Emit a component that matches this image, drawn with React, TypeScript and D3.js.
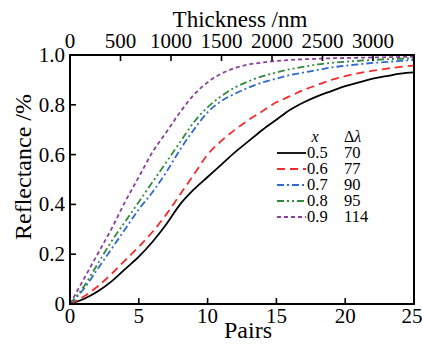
import React from 'react';
import * as d3 from 'd3';

const pairs = [0,1,2,3,4,5,6,7,8,9,10,11,12,13,14,15,16,17,18,19,20,21,22,23,24,25];
const r05 = [0,0.02,0.05,0.09,0.14,0.19,0.25,0.32,0.40,0.46,0.51,0.56,0.61,0.655,0.70,0.74,0.78,0.81,0.835,0.855,0.875,0.89,0.905,0.915,0.925,0.93];
const r06 = [0,0.03,0.07,0.12,0.175,0.23,0.29,0.36,0.44,0.52,0.60,0.655,0.70,0.74,0.775,0.81,0.835,0.86,0.88,0.90,0.915,0.927,0.937,0.945,0.952,0.958];
const r07 = [0,0.06,0.14,0.22,0.30,0.38,0.45,0.53,0.62,0.70,0.77,0.815,0.845,0.87,0.89,0.905,0.92,0.93,0.94,0.95,0.957,0.963,0.968,0.972,0.976,0.98];
const r08 = [0,0.07,0.16,0.25,0.33,0.41,0.49,0.57,0.65,0.73,0.79,0.835,0.87,0.895,0.915,0.93,0.943,0.953,0.962,0.968,0.973,0.977,0.98,0.983,0.985,0.987];
const r09 = [0,0.10,0.20,0.30,0.41,0.51,0.61,0.69,0.77,0.84,0.89,0.925,0.948,0.962,0.97,0.976,0.98,0.983,0.985,0.987,0.988,0.989,0.99,0.991,0.992,0.993];

const xValues = ['0.5','0.6','0.7','0.8','0.9'];
const dLambda = ['70','77','90','95','114'];
const colors = ['#000000','#f52a2a','#2f6bcc','#2f8a3c','#8b3d9e'];
const dashes = ['none','8,5','7,3,2,3','7,3,2,3,2,3','4,3'];
const series = [r05, r06, r07, r08, r09];

const pairTicks = [0,5,10,15,20,25];
const reflTicks = [0,0.2,0.4,0.6,0.8,1.0];
const thickTicks = [0,500,1000,1500,2000,2500,3000];
const maxThickness = 3406;

export default function App() {
  const W = 422, H = 348;
  const m = { left: 70, right: 414, top: 55, bottom: 304 };
  const x = d3.scaleLinear().domain([0, 25]).range([m.left, m.right]);
  const xt = d3.scaleLinear().domain([0, maxThickness]).range([m.left, m.right]);
  const y = d3.scaleLinear().domain([0, 1]).range([m.bottom, m.top]);
  const line = d3.line<number>()
    .x((_, i) => x(pairs[i]))
    .y(d => y(d))
    .curve(d3.curveMonotoneX);

  const legX = 277, legY = 153, legStep = 16;

  return (
    <svg className="chart" width={W} height={H} style={{ position: 'absolute', left: 0, top: 0, background: '#fff' }}>
      <style>{`.chart text { font-family: 'Liberation Serif'; }`}</style>
      <rect width={W} height={H} fill="#fff" />
      {series.map((s, k) => (
        <path key={k} d={line(s) || ''} fill="none" stroke={colors[k]} strokeWidth={1.8}
          strokeDasharray={dashes[k]} />
      ))}
      <rect x={m.left} y={m.top} width={m.right - m.left} height={m.bottom - m.top}
        fill="none" stroke="#000" strokeWidth={2} />

      {pairTicks.map(t => (
        <g key={'b' + t}>
          <line x1={x(t)} x2={x(t)} y1={m.bottom} y2={m.bottom - 6} stroke="#000" strokeWidth={1.6} />
          <text x={t === 25 ? x(t) - 2 : x(t)} y={323} fontSize={21} textAnchor="middle">{t}</text>
        </g>
      ))}
      {reflTicks.map(t => (
        <g key={'l' + t}>
          <line x1={m.left} x2={m.left + 6} y1={y(t)} y2={y(t)} stroke="#000" strokeWidth={1.6} />
          <text x={65} y={y(t) + 7} fontSize={21} textAnchor="end">{t === 0 ? '0' : t.toFixed(1)}</text>
        </g>
      ))}
      {thickTicks.map(t => (
        <g key={'t' + t}>
          <line x1={xt(t)} x2={xt(t)} y1={m.top} y2={m.top + 6} stroke="#000" strokeWidth={1.6} />
          <text x={xt(t)} y={48} fontSize={21} textAnchor="middle">{t}</text>
        </g>
      ))}

      <text x={240} y={27} fontSize={23} textAnchor="middle">Thickness /nm</text>
      <text x={248} y={338} fontSize={24} textAnchor="middle">Pairs</text>
      <text transform="translate(31,167) rotate(-90)" fontSize={24} textAnchor="middle">Reflectance /%</text>

      <text x={315} y={142} fontSize={16} fontStyle="italic" textAnchor="middle">x</text>
      <text x={344} y={142} fontSize={16}>Δ<tspan fontStyle="italic">λ</tspan></text>
      {xValues.map((v, k) => (
        <g key={'g' + k}>
          <line x1={legX} x2={legX + 29} y1={legY + k * legStep} y2={legY + k * legStep}
            stroke={colors[k]} strokeWidth={1.8} strokeDasharray={dashes[k]} />
          <text x={307} y={legY + k * legStep + 5} fontSize={16.5}>{v}</text>
          <text x={344} y={legY + k * legStep + 5} fontSize={16.5}>{dLambda[k]}</text>
        </g>
      ))}
    </svg>
  );
}
